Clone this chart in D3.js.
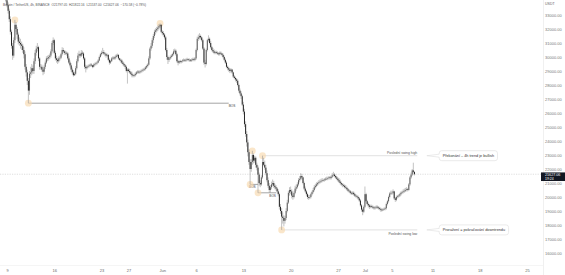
<!DOCTYPE html>
<html>
<head>
<meta charset="utf-8">
<script src="https://cdn.jsdelivr.net/npm/d3@7"></script>
<style>
  html, body { margin: 0; padding: 0; background: #fff; }
  svg { display: block; font-family: "Liberation Sans", Arial, sans-serif; }
</style>
</head>
<body>
<svg id="chart" width="565" height="275"></svg>
<script>
// BTC/USDT 4h candles, first one opens May 8 2022 12:00 UTC
const startTime = Date.UTC(2022, 4, 8, 12);
const firstOpen = 34500;

const closes = [
  34400, 34200, 34050,
  33700, 33300, 32700, 31800, 30800, 30100,
  31200, 32300, 32000, 31600, 31100, 31000,
  30900, 30800, 30500, 30200, 29300, 28900,
  28300, 27600, 28800, 28900, 29200, 29000,
  29700, 30300, 30600, 30700, 29900, 29300,
  29300, 29100, 28950, 29300, 29600, 29900,
  29900, 30000, 30100, 30400, 31000, 31200,
  30300, 29900, 29800, 29700, 29900, 29950,
  30200, 30500, 30400, 30300, 30300, 30250,
  29900, 29600, 29400, 29100, 28900, 28700,
  28800, 29200, 29700, 30100, 30200, 30100,
  30300, 30250, 29900, 29300, 29200, 29300,
  29350, 29400, 29450, 29400, 29300, 29450,
  29500, 29550, 29600, 29750, 30000, 30200,
  30300, 30350, 30250, 30200, 30100, 30150,
  29800, 29600, 29700, 29900, 29950, 29900,
  30000, 30100, 30150, 29900, 29800, 29750,
  29600, 29500, 29400, 29300, 29000, 29100,
  29000, 28900, 28800, 28700, 28650, 28700,
  28800, 28900, 28950, 28900, 28950, 29000,
  29050, 29100, 29150, 29250, 29350, 29450,
  29900, 30600, 30800, 31200, 31500, 31800,
  31900, 32000, 32100, 32200, 32300, 31800,
  31700, 31600, 31400, 30500, 30000, 29800,
  29900, 30000, 30100, 30200, 30400, 30450,
  30200, 29700, 29600, 29700, 29650, 29700,
  29750, 29800, 29750, 29800, 29850, 29800,
  29800, 29750, 29800, 29850, 29800, 29900,
  30500, 31300, 31400, 31500, 31400, 31200,
  30600, 29600, 29500, 30500, 31200, 31300,
  31000, 30700, 30500, 30400, 30300, 30350,
  30300, 30250, 30200, 30300, 30250, 30150,
  30000, 29800, 29600, 29300, 29200, 29100,
  29000, 29100, 28900, 28600, 28500, 28400,
  28300, 28000, 27600, 27400, 27200, 26600,
  26100, 25200, 24500, 23900, 23200, 22500,
  22000, 22500, 23000, 22600, 22800, 22300,
  22100, 21600, 21000, 20900, 21400, 22500,
  22300, 22100, 21700, 21200, 20800, 20500,
  20700, 20900, 21000, 20800, 20700, 20600,
  20400, 20200, 19300, 19000, 18600, 18500,
  18300, 18500, 19000, 19600, 20300, 20500,
  20400, 20100, 20000, 20300, 20600, 20700,
  20900, 21200, 21300, 21500, 21400, 21000,
  20600, 20400, 20200, 20000, 19950, 20000,
  20200, 20350, 20500, 20700, 20800, 20900,
  21000, 21050, 21100, 21150, 21200, 21200,
  21250, 21300, 21300, 21350, 21400, 21350,
  21450, 21550, 21600, 21500, 21400, 21300,
  21200, 21100, 21000, 20900, 20850, 20800,
  20700, 20650, 20550, 20450, 20400, 20300,
  20250, 20300, 20200, 20100, 20050, 20000,
  19900, 19750, 19400, 19100, 18950, 19300,
  20200, 19700, 19500, 19400, 19300, 19350,
  19300, 19250, 19200, 19250, 19300, 19250,
  19200, 19150, 19100, 19050, 19100, 19150,
  19200, 19500, 19700, 20000, 20250, 20300,
  20300, 20400, 19900, 19800, 20000, 20050,
  20100, 20200, 20300, 20350, 20400, 20450,
  20500, 20550, 20500, 20900, 21400, 21600,
  21900, 21797.05, 21627.06
];

const highs = [
  34700, 34550, 34300,
  34250, 33900, 33450, 32900, 31950, 31000,
  31400, 32650, 32500, 32150, 31750, 31400,
  31300, 31100, 30950, 30700, 30400, 29500,
  29100, 28500, 29000, 29300, 29500, 29400,
  29900, 30500, 30800, 31000, 30800, 30000,
  29500, 29450, 29200, 29450, 29750, 30050,
  30100, 30150, 30250, 30550, 31150, 31400,
  31300, 30450, 30100, 29950, 30050, 30100,
  30300, 30700, 30650, 30500, 30450, 30400,
  30350, 30050, 29750, 29550, 29250, 29050,
  28950, 29350, 29850, 30300, 30450, 30300,
  30500, 30450, 30350, 30000, 29450, 29400,
  29450, 29500, 29550, 29550, 29450, 29550,
  29600, 29650, 29700, 29850, 30100, 30300,
  30450, 30650, 30500, 30350, 30300, 30250,
  30200, 29900, 29800, 30000, 30050, 30050,
  30100, 30200, 30250, 30200, 29950, 29900,
  29850, 29700, 29600, 29500, 29400, 29200,
  29200, 29150, 29000, 28950, 28800, 28800,
  28900, 29000, 29050, 29050, 29050, 29100,
  29150, 29200, 29250, 29350, 29450, 29550,
  30050, 30700, 31000, 31350, 31650, 31950,
  32050, 32150, 32250, 32350, 32400, 32350,
  31900, 31850, 31700, 31500, 30650, 30100,
  30000, 30100, 30200, 30300, 30550, 30600,
  30550, 30300, 29800, 29750, 29800, 29750,
  29850, 29900, 29850, 29900, 29950, 29900,
  29900, 29850, 29900, 29950, 29950, 30000,
  30600, 31450, 31600, 31700, 31600, 31450,
  31300, 30700, 29800, 30600, 31300, 31550,
  31400, 31150, 30800, 30650, 30550, 30450,
  30450, 30400, 30350, 30400, 30400, 30300,
  30250, 30100, 29900, 29700, 29400, 29300,
  29200, 29200, 29150, 28950, 28700, 28600,
  28500, 28400, 28100, 27750, 27550, 27300,
  26800, 26300, 25400, 24700, 24100, 23400,
  22700, 22700, 23300, 23100, 22950, 22900,
  22450, 22250, 21750, 21200, 21550, 22950,
  22800, 22600, 22300, 21900, 21400, 21000,
  20850, 21100, 21250, 21150, 20950, 20850,
  20700, 20550, 20300, 19500, 19200, 18900,
  18700, 18650, 19200, 19800, 20450, 20700,
  20750, 20550, 20250, 20450, 20800, 20900,
  21050, 21350, 21500, 21700, 21650, 21450,
  21100, 20750, 20500, 20300, 20150, 20150,
  20300, 20450, 20650, 20850, 20950, 21050,
  21100, 21200, 21250, 21300, 21350, 21300,
  21350, 21400, 21450, 21450, 21500, 21500,
  21550, 21700, 21800, 21700, 21600, 21500,
  21400, 21350, 21250, 21100, 21000, 20950,
  20900, 20850, 20750, 20650, 20550, 20500,
  20400, 20400, 20400, 20300, 20200, 20150,
  20100, 20000, 19850, 19500, 19200, 19400,
  20750, 20300, 19800, 19600, 19500, 19450,
  19450, 19400, 19350, 19350, 19400, 19400,
  19350, 19300, 19250, 19200, 19200, 19250,
  19300, 19600, 19800, 20100, 20350, 20450,
  20450, 20550, 20450, 20000, 20100, 20150,
  20200, 20300, 20400, 20450, 20550, 20600,
  20650, 20700, 20650, 21000, 21500, 21750,
  22000, 22450, 21822.16
];

const lows = [
  34250, 34100, 33900,
  33550, 33100, 32500, 31600, 30600, 29800,
  29950, 31000, 31800, 31300, 30900, 30800,
  30600, 30500, 30300, 29900, 29100, 28600,
  28000, 26700, 27300, 28500, 28700, 28800,
  28800, 29500, 30100, 30400, 29700, 29100,
  29100, 28950, 28700, 28800, 29150, 29500,
  29700, 29750, 29850, 29950, 30250, 30850,
  30200, 29750, 29600, 29500, 29600, 29750,
  29850, 30100, 30300, 30150, 30150, 30100,
  29800, 29500, 29250, 28950, 28750, 28600,
  28650, 28700, 29100, 29600, 29950, 29950,
  30000, 30100, 29800, 29150, 28900, 29100,
  29200, 29250, 29300, 29300, 29200, 29250,
  29350, 29400, 29450, 29550, 29700, 29950,
  30100, 30200, 30150, 30050, 29950, 30000,
  29700, 29450, 29500, 29650, 29800, 29800,
  29800, 29900, 30000, 29800, 29700, 29600,
  29500, 29400, 29300, 29150, 28900, 28100,
  28900, 28800, 28700, 28550, 28550, 28550,
  28600, 28700, 28800, 28800, 28800, 28850,
  28900, 28950, 29000, 29050, 29150, 29250,
  29400, 29800, 30450, 30650, 31000, 31350,
  31600, 31750, 31850, 31950, 32050, 31700,
  31550, 31450, 31250, 30400, 29800, 29500,
  29650, 29800, 29900, 30000, 30100, 30300,
  30100, 29600, 29400, 29500, 29550, 29550,
  29600, 29650, 29650, 29650, 29700, 29700,
  29650, 29650, 29650, 29700, 29700, 29700,
  29800, 30400, 31150, 31250, 31250, 31100,
  30500, 29450, 29250, 29400, 30400, 31100,
  30900, 30600, 30400, 30300, 30200, 30200,
  30200, 30150, 30100, 30100, 30150, 30050,
  29900, 29700, 29500, 29200, 29050, 28950,
  28850, 28900, 28800, 28500, 28400, 28250,
  28150, 27900, 27450, 27250, 27000, 26500,
  25900, 25000, 24300, 23600, 22900, 22300,
  20900, 21800, 22300, 22400, 22450, 22100,
  21900, 20300, 20800, 20700, 20800, 21300,
  22200, 21950, 21550, 21050, 20650, 20300,
  20300, 20550, 20750, 20650, 20550, 20450,
  20250, 20050, 19100, 18800, 17650, 18100,
  17900, 18100, 18350, 18900, 19500, 20100,
  20200, 19900, 19800, 19900, 20200, 20450,
  20600, 20800, 21050, 21200, 21250, 20900,
  20500, 20300, 20050, 19850, 19800, 19850,
  19900, 20100, 20250, 20400, 20600, 20700,
  20800, 20900, 20950, 21000, 21050, 21100,
  21100, 21150, 21200, 21200, 21250, 21250,
  21250, 21350, 21450, 21400, 21300, 21200,
  21100, 21000, 20900, 20800, 20700, 20700,
  20600, 20550, 20450, 20350, 20300, 20200,
  20150, 20150, 20100, 20000, 19950, 19900,
  19800, 19650, 19300, 18950, 18700, 18850,
  19200, 19600, 19400, 19250, 19150, 19200,
  19200, 19150, 19100, 19100, 19150, 19150,
  19100, 19050, 18950, 18950, 19000, 19050,
  19050, 19100, 19400, 19600, 19900, 20150,
  20150, 20200, 19800, 19650, 19700, 19900,
  19950, 20000, 20100, 20200, 20250, 20300,
  20350, 20400, 20400, 20450, 20800, 21300,
  21500, 21700, 21537
];

const yTicks = [16000, 17000, 18000, 19000, 20000, 21000, 22000, 23000, 24000,
  25000, 26000, 27000, 28000, 29000, 30000, 31000, 32000, 33000];

const xTickDates = ["2022-05-09", "2022-05-16", "2022-05-23", "2022-05-27", "2022-06-01",
  "2022-06-06", "2022-06-13", "2022-06-20", "2022-06-27", "2022-07-01", "2022-07-05",
  "2022-07-11", "2022-07-18", "2022-07-25"];
const xTickLabels = ["9", "16", "23", "27", "Jun", "6", "13", "20", "27", "Jul", "5", "11", "18", "25"];

// swing points marked with circles
const swingTimes = ["2022-05-10T04:00Z", "2022-05-12T04:00Z", "2022-05-31T16:00Z", "2022-06-14T08:00Z",
  "2022-06-14T00:00Z", "2022-06-15T20:00Z", "2022-06-15T04:00Z", "2022-06-18T16:00Z"];
const swingPrices = [32650, 26700, 32400, 23300, 20900, 22950, 20300, 17650];

// break of structure lines: start, end, price, label time
const bosStart = ["2022-05-12T04:00Z", "2022-06-14T00:00Z", "2022-06-15T04:00Z"];
const bosEnd = ["2022-06-10T20:00Z", "2022-06-15T04:00Z", "2022-06-17T20:00Z"];
const bosPrice = [26700, 20900, 20300];
const bosLabelTime = ["2022-06-11T08:00Z", "2022-06-14T08:00Z", "2022-06-17T08:00Z"];

const levelNames = ["Poslední swing high", "Poslední swing low"];
const levelStart = ["2022-06-15T20:00Z", "2022-06-18T16:00Z"];
const levelPrice = [22950, 17650];
const levelEnd = "2022-07-08T18:00Z";
const calloutTexts = ["Překonání – 4h trend je bullish", "Proražení = pokračování downtrendu"];
const calloutTip = "2022-07-10T04:00Z";
const calloutBox = "2022-07-12T00:00Z";

const lastPrice = 21627.06;
const countdown = "19:24";
const headerText = "Bitcoin / TetherUS, 4h, BINANCE  O21797.05  H21822.16  L21537.00  C21627.06  −170.58 (−0.78%)";

// ---------------------------------------------------------------
const W = 565, H = 275, plotRight = 543, plotBottom = 265;
const svg = d3.select("#chart");

const x = d3.scaleUtc()
  .domain([new Date("2022-05-09T00:00Z"), new Date("2022-07-25T00:00Z")])
  .range([7, 527]);
const y = d3.scaleLinear().domain([16000, 33000]).range([253, 15]);

const candles = closes.map((c, i) => ({
  t: new Date(startTime + i * 4 * 3600e3),
  o: i === 0 ? firstOpen : closes[i - 1],
  h: highs[i], l: lows[i], c: c
}));

svg.append("defs").append("clipPath").attr("id", "plot")
  .append("rect").attr("x", 0).attr("y", 0).attr("width", plotRight).attr("height", plotBottom);

// frame lines
svg.append("line").attr("x1", plotRight + 0.5).attr("x2", plotRight + 0.5)
  .attr("y1", 0).attr("y2", H).attr("stroke", "#e6e6e6").attr("stroke-width", 0.6);
svg.append("line").attr("x1", 0).attr("x2", plotRight).attr("y1", plotBottom + 0.5).attr("y2", plotBottom + 0.5)
  .attr("stroke", "#eeeeee").attr("stroke-width", 0.6);

const plot = svg.append("g").attr("clip-path", "url(#plot)");

// last price dashed line
plot.append("line")
  .attr("x1", 0).attr("x2", plotRight)
  .attr("y1", y(lastPrice)).attr("y2", y(lastPrice))
  .attr("stroke", "#bdbdbd").attr("stroke-width", 0.5).attr("stroke-dasharray", "1.2,1.2");

// swing level lines
levelNames.forEach((name, i) => {
  const yy = y(levelPrice[i]);
  plot.append("line")
    .attr("x1", x(new Date(levelStart[i]))).attr("x2", x(new Date(levelEnd)))
    .attr("y1", yy).attr("y2", yy)
    .attr("stroke", "#c4c4c4").attr("stroke-width", 0.5);
  plot.append("text")
    .attr("x", x(new Date(levelEnd))).attr("y", i === 0 ? yy - 1.8 : yy + 4.6)
    .attr("text-anchor", "end").attr("font-size", 3.4).attr("fill", "#555")
    .text(name);
});

// BOS lines
bosStart.forEach((s, i) => {
  const yy = y(bosPrice[i]);
  plot.append("line")
    .attr("x1", x(new Date(s))).attr("x2", x(new Date(bosEnd[i])))
    .attr("y1", yy).attr("y2", yy)
    .attr("stroke", "#5a5a5a").attr("stroke-width", 0.55);
  plot.append("text")
    .attr("x", x(new Date(bosLabelTime[i]))).attr("y", yy + 3.9)
    .attr("text-anchor", "middle").attr("font-size", 3.2).attr("fill", "#444")
    .text("BOS");
});

// swing circles
plot.selectAll("circle.swing").data(swingTimes).join("circle")
  .attr("class", "swing")
  .attr("cx", d => x(new Date(d)))
  .attr("cy", (d, i) => y(swingPrices[i]))
  .attr("r", 3.4)
  .attr("fill", "#f8d9ad").attr("fill-opacity", 0.65);

// candles
const bw = 1.0;
plot.selectAll("line.wick").data(candles).join("line")
  .attr("class", "wick")
  .attr("x1", d => x(d.t)).attr("x2", d => x(d.t))
  .attr("y1", d => y(Math.max(d.h, d.o, d.c))).attr("y2", d => y(Math.min(d.l, d.o, d.c)))
  .attr("stroke", "#9a9a9a").attr("stroke-width", 0.6);
plot.selectAll("rect.body").data(candles).join("rect")
  .attr("class", "body")
  .attr("x", d => x(d.t) - bw / 2).attr("width", bw)
  .attr("y", d => y(Math.max(d.o, d.c)))
  .attr("height", d => Math.max(0.6, Math.abs(y(d.o) - y(d.c))))
  .attr("fill", d => d.c >= d.o ? "#5e5e5e" : "#262626");

// callouts
calloutTexts.forEach((txt, i) => {
  const yy = y(levelPrice[i]);
  const tipX = x(new Date(calloutTip));
  const bx = x(new Date(calloutBox));
  const g = svg.append("g");
  const t = g.append("text")
    .attr("x", bx + 3.5).attr("y", yy + 1.3)
    .attr("font-size", 3.8).attr("fill", "#333").text(txt);
  const tw = t.node().getComputedTextLength();
  const bh = 10, bwid = tw + 7;
  g.insert("path", "text")
    .attr("d", `M${bx + 2.5},${yy - bh / 2} H${bx + bwid - 2.5} Q${bx + bwid},${yy - bh / 2} ${bx + bwid},${yy - bh / 2 + 2.5}
      V${yy + bh / 2 - 2.5} Q${bx + bwid},${yy + bh / 2} ${bx + bwid - 2.5},${yy + bh / 2} H${bx + 2.5}
      Q${bx},${yy + bh / 2} ${bx},${yy + bh / 2 - 2.5} V${yy + 1.5} L${tipX},${yy} L${bx},${yy - 1.5}
      V${yy - bh / 2 + 2.5} Q${bx},${yy - bh / 2} ${bx + 2.5},${yy - bh / 2} Z`)
    .attr("fill", "#fff").attr("stroke", "#d6d6d6").attr("stroke-width", 0.5);
});

// y axis labels
svg.append("text").attr("x", 545).attr("y", 4.5)
  .attr("font-size", 3.6).attr("fill", "#666").text("USDT");
svg.selectAll("text.ytick").data(yTicks).join("text")
  .attr("class", "ytick")
  .attr("x", 545).attr("y", d => y(d) + 1.6)
  .attr("font-size", 4).attr("fill", "#777")
  .text(d => d3.format(".2f")(d));

// last price label
const lp = svg.append("g");
lp.append("rect").attr("x", 541).attr("y", y(lastPrice) - 1.8).attr("width", 24).attr("height", 8.6)
  .attr("fill", "#131722");
lp.append("text").attr("x", 545).attr("y", y(lastPrice) + 2.2)
  .attr("font-size", 3.7).attr("fill", "#fff").text(d3.format(".2f")(lastPrice));
lp.append("text").attr("x", 545).attr("y", y(lastPrice) + 5.9)
  .attr("font-size", 3.5).attr("fill", "#fff").text(countdown);

// x axis
const xAxis = d3.axisBottom(x)
  .tickValues(xTickDates.map(d => new Date(d + "T00:00Z")))
  .tickFormat((d, i) => xTickLabels[i])
  .tickSize(0).tickPadding(4.5);
const xg = svg.append("g").attr("transform", `translate(0,${plotBottom})`).call(xAxis);
xg.select(".domain").remove();
xg.selectAll("text").attr("font-size", 4).attr("fill", "#666").attr("font-family", "Liberation Sans, Arial, sans-serif");

// header legend
svg.append("text").attr("x", 3).attr("y", 5.5)
  .attr("font-size", 3.2).attr("fill", "#555").attr("xml:space", "preserve")
  .style("white-space", "pre")
  .text(headerText);
</script>
</body>
</html>
